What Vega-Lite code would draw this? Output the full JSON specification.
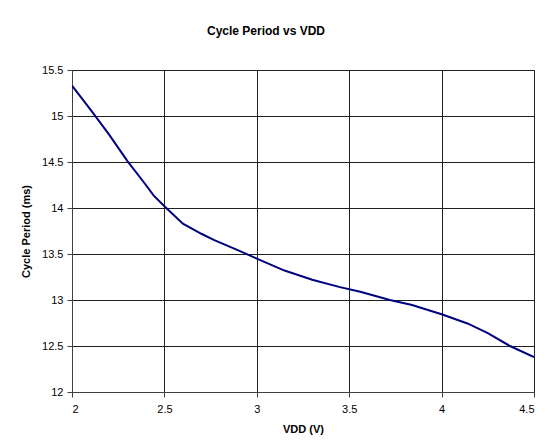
{
  "$schema": "https://vega.github.io/schema/vega-lite/v6.json",
  "autosize": {"type": "none"},
  "width": 462,
  "height": 322,
  "padding": {"left": 72, "top": 70, "right": 15, "bottom": 53},
  "background": "white",
  "title": {
    "text": "Cycle Period vs VDD",
    "font": "Liberation Sans",
    "fontSize": 12,
    "fontWeight": "bold",
    "color": "black",
    "anchor": "middle",
    "dx": -37,
    "offset": 26
  },
  "data": {
    "values": [
      {"vdd": 2.0, "period": 15.33},
      {"vdd": 2.1, "period": 15.07},
      {"vdd": 2.2, "period": 14.8},
      {"vdd": 2.3, "period": 14.51},
      {"vdd": 2.4, "period": 14.25},
      {"vdd": 2.44, "period": 14.14},
      {"vdd": 2.5, "period": 14.02},
      {"vdd": 2.6, "period": 13.83},
      {"vdd": 2.7, "period": 13.72},
      {"vdd": 2.77, "period": 13.65},
      {"vdd": 2.9, "period": 13.54},
      {"vdd": 3.0, "period": 13.45},
      {"vdd": 3.15, "period": 13.32},
      {"vdd": 3.3, "period": 13.22},
      {"vdd": 3.45, "period": 13.14},
      {"vdd": 3.56, "period": 13.09},
      {"vdd": 3.72, "period": 13.0},
      {"vdd": 3.84, "period": 12.945},
      {"vdd": 4.0, "period": 12.845},
      {"vdd": 4.14, "period": 12.745},
      {"vdd": 4.25, "period": 12.64},
      {"vdd": 4.37, "period": 12.5},
      {"vdd": 4.5, "period": 12.38}
    ]
  },
  "mark": {"type": "line", "color": "#000080", "strokeWidth": 2, "clip": true},
  "encoding": {
    "x": {
      "field": "vdd",
      "type": "quantitative",
      "scale": {"domain": [2, 4.5], "nice": false, "zero": false},
      "axis": {
        "title": "VDD (V)",
        "format": "~g",
        "values": [2, 2.5, 3, 3.5, 4, 4.5],
        "labelPadding": 6,
        "titlePadding": 9
      }
    },
    "y": {
      "field": "period",
      "type": "quantitative",
      "scale": {"domain": [12, 15.5], "nice": false, "zero": false},
      "axis": {
        "title": "Cycle Period (ms)",
        "format": "~g",
        "values": [12, 12.5, 13, 13.5, 14, 14.5, 15, 15.5],
        "labelPadding": 4,
        "titlePadding": 10
      }
    }
  },
  "config": {
    "view": {"stroke": "#808080", "strokeWidth": 1},
    "axis": {
      "labelFont": "Liberation Sans",
      "labelFontSize": 11,
      "labelColor": "black",
      "titleFont": "Liberation Sans",
      "titleFontSize": 11,
      "titleFontWeight": "bold",
      "titleColor": "black",
      "domainColor": "#404040",
      "domainWidth": 1,
      "tickColor": "#404040",
      "tickSize": 5,
      "gridColor": "#202020",
      "gridWidth": 1,
      "gridOpacity": 1,
      "grid": true
    }
  }
}
